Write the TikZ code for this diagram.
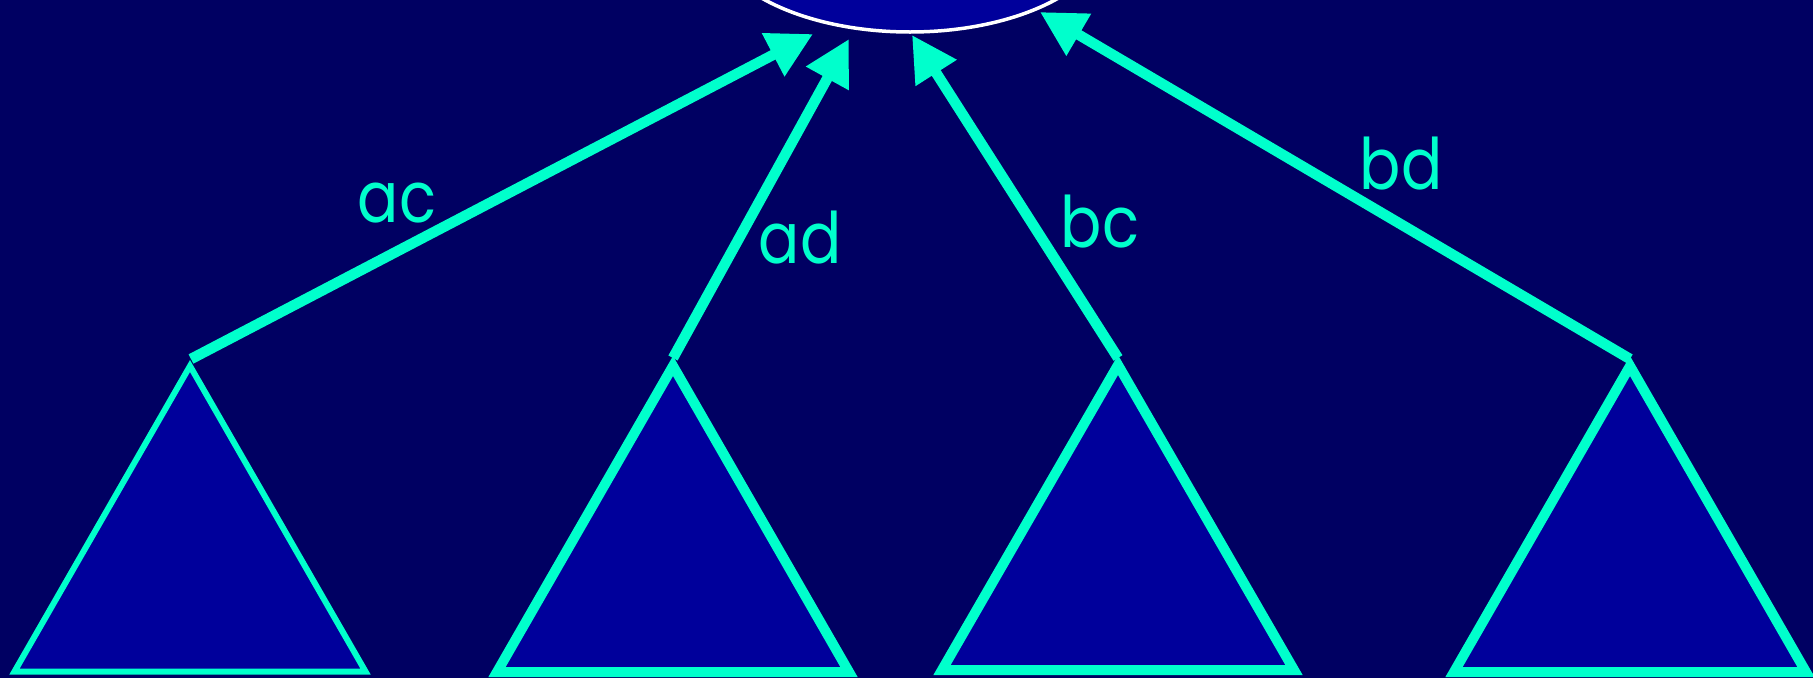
\documentclass[tikz,border=0pt]{standalone}
\usepackage{fontspec}
\setmainfont{Poppins}
\newfontfamily\labfont[FakeStretch=0.86]{Poppins}
\usetikzlibrary{arrows.meta,shapes.geometric}
\definecolor{bgnavy}{RGB}{0,0,98}
\definecolor{boxblue}{RGB}{0,0,155}
\definecolor{aqua}{RGB}{0,255,204}
\tikzset{
  tri/.style={draw=aqua, fill=boxblue, line width=10pt, line join=miter},
  thintri/.style={tri, line width=6pt},
  link/.style={draw=aqua, line width=10.5pt, line cap=butt, -{Triangle[length=45pt,width=46pt]}},
  lab/.style={text=aqua, font=\labfont\fontsize{71}{80}\selectfont, inner sep=0pt, anchor=base},
  root/.style={ellipse, draw=white, fill=boxblue, line width=3.5pt, minimum width=400pt, minimum height=206pt, inner sep=0pt}
}
\begin{document}
\begin{tikzpicture}[x=1pt,y=-1pt]
\useasboundingbox (0,0) rectangle (1813,678);
\fill[bgnavy] (0,0) rectangle (1813,678);
% root
\node[root] (top) at (910,-71) {};
% subtrees
\draw[thintri] (190,366) -- (365.5,671.5) -- (14.5,671.5) -- cycle;
\draw[tri] (673,366) -- (849,672) -- (497,672) -- cycle;
\draw[tri] (1118,365) -- (1294,670) -- (942,670) -- cycle;
\draw[tri] (1630,366) -- (1806,672) -- (1454,672) -- cycle;
% connector ends
\coordinate (s1) at (191,359);
\coordinate (s2) at (673,358);
\coordinate (s3) at (1118,358);
\coordinate (s4) at (1630,359);
\coordinate (e1) at (813,34);
\coordinate (e2) at (849,39);
\coordinate (e3) at (912,35);
\coordinate (e4) at (1040,12);
\draw[link] (s1) -- (e1);
\draw[link] (s2) -- (e2);
\draw[link] (s3) -- (e3);
\draw[link] (s4) -- (e4);
% labels
\node[lab] (lac) at (397,222) {ac};
\node[lab] (lad) at (800,263) {ad};
\node[lab] (lbc) at (1100,247) {bc};
\node[lab] (lbd) at (1401,189) {bd};
\end{tikzpicture}
\end{document}
